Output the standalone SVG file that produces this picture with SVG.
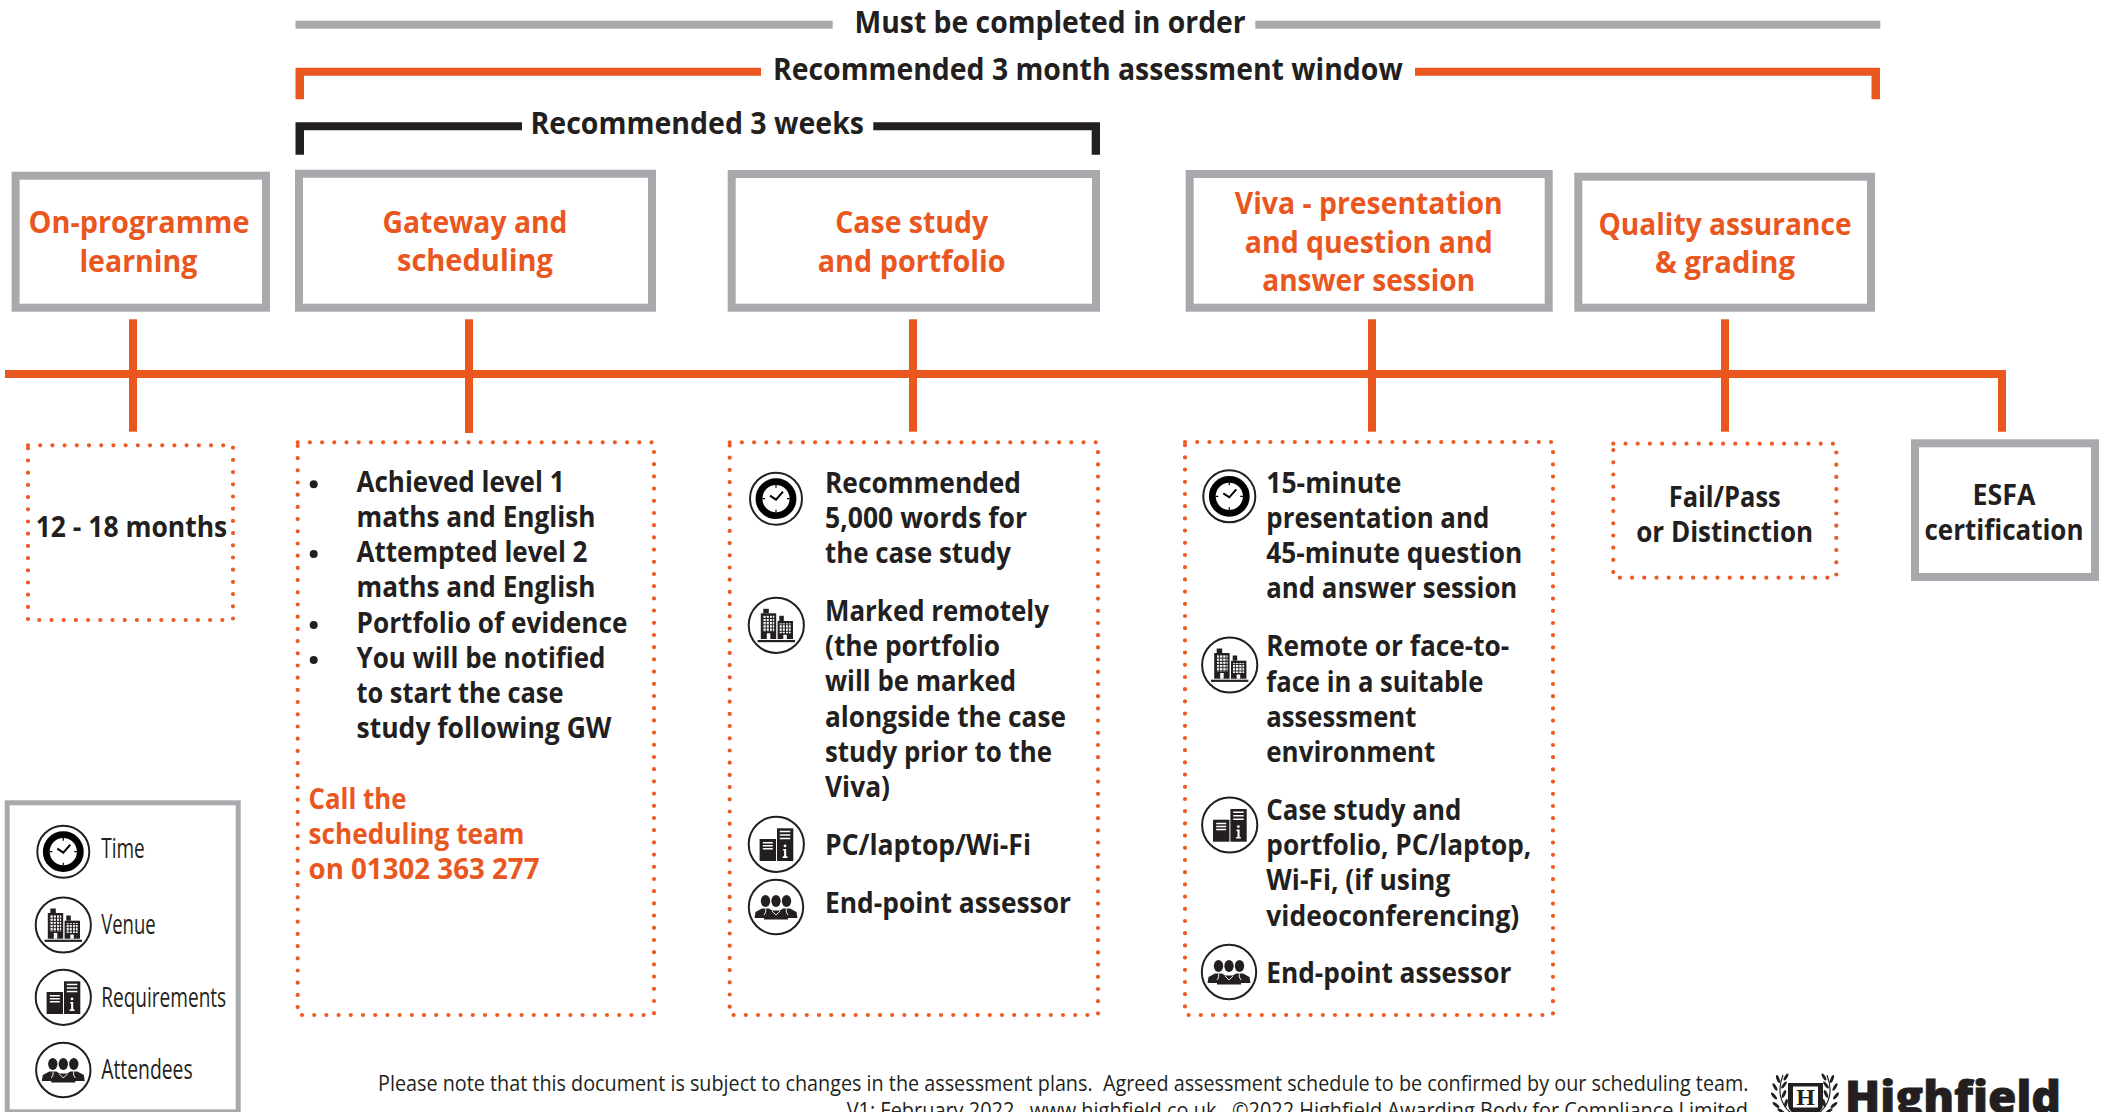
<svg xmlns="http://www.w3.org/2000/svg" width="2103" height="1112" viewBox="0 0 2103 1112">
<style>
text{font-family:"Open Sans","Noto Sans","Liberation Sans",sans-serif;font-weight:700;fill:#231f20}
.b{font-size:28.5px}
.top{font-size:31px}
.h{font-size:31px;fill:#e9571f;text-anchor:middle}
.c{text-anchor:middle}
.o{fill:#e9571f}
.leg{font-size:27px;font-weight:400}
.foot{font-size:21px;font-weight:400}
.box{fill:#fff;stroke:#a7a9ac;stroke-width:8}
.dot{fill:none;stroke:#ee5a24;stroke-width:4.2;stroke-linecap:round;stroke-dasharray:0 12.2}
.orange{fill:#e9571f}
.gray{fill:#a7a9ac}
.black{fill:#231f20}
.ring{fill:#fff;stroke:#231f20;stroke-width:2}
.w{stroke:#fff;stroke-width:1.4;fill:none}
</style>
<defs>
<pattern id="win" width="3.2" height="3.2" patternUnits="userSpaceOnUse"><rect width="2.2" height="2.2" fill="#fff"/></pattern>
<g id="i-time">
<circle class="ring" r="26"/>
<circle r="17" fill="#fff" stroke="#000" stroke-width="6.8"/>
<path d="M0-13.6V-11M0 13.6V11M-13.6 0H-11M13.6 0H11" stroke="#000" stroke-width="1.2"/>
<path d="M-6-3L0 1L7-7" fill="none" stroke="#000" stroke-width="2"/>
</g>
<g id="i-venue">
<circle class="ring" r="27.6"/>
<g fill="#231f20">
<rect x="-18.7" y="14.7" width="37.4" height="2.2"/>
<rect x="-15.5" y="-12" width="15.4" height="25.7"/>
<rect x="-13" y="-16.5" width="5.5" height="4.5"/>
<rect x="1.3" y="-4.3" width="15.4" height="18"/>
<rect x="3" y="-9.5" width="4.5" height="5.2"/>
</g>
<rect x="-13.5" y="-10" width="11.4" height="16.5" fill="url(#win)"/>
<rect x="3" y="-2" width="11.4" height="10" fill="url(#win)"/>
<rect x="-9.5" y="8" width="3.5" height="5.7" fill="#fff"/>
<rect x="7" y="9.5" width="3.5" height="4.2" fill="#fff"/>
</g>
<g id="i-req">
<circle class="ring" r="27.6"/>
<rect x="-16.7" y="-5.3" width="16.4" height="22" fill="#231f20"/>
<rect x="0.7" y="-16" width="16.3" height="32.7" fill="#231f20"/>
<path class="w" d="M-13.5-1.5H-3.5M-13.5 1.5H-3.5M-13.5 4.5H-3.5M3.5-12.8H14M3.5-9.3H14M3.5-5.8H14"/>
<circle cx="8.7" cy="1.6" r="1.4" fill="#fff"/>
<path d="M6.8 4.6H9.9V12H11.2V13.6H6.4V12H7.8V6.2H6.8Z" fill="#fff"/>
</g>
<g id="i-att">
<circle class="ring" r="27.2"/>
<g fill="#231f20">
<ellipse cx="-10.5" cy="-6" rx="4.7" ry="6"/>
<ellipse cx="0" cy="-6" rx="4.7" ry="6"/>
<ellipse cx="10.5" cy="-6" rx="4.7" ry="6"/>
<path d="M-21.5 11L-20.5 5L-14 1.5H-7L-4 3.5L4 3.5L7 1.5H14L20.5 5L21.5 11H12V12.5H-12V11Z"/>
</g>
<path d="M-10.3 1.5V5L-12 8M10.3 1.5V5L12 8M-4 4L0 8L4 4" fill="none" stroke="#fff" stroke-width="0.9"/>
</g>
<g id="laurel" fill="#231f20">
<path d="M1791 1113C1780 1104 1777 1090 1783 1075" fill="none" stroke="#231f20" stroke-width="1.2"/>
<ellipse cx="1786" cy="1077" rx="1.5" ry="4" transform="rotate(30 1786 1077)"/>
<ellipse cx="1778" cy="1079" rx="1.5" ry="4.2" transform="rotate(-20 1778 1079)"/>
<ellipse cx="1784" cy="1085" rx="1.5" ry="4.2" transform="rotate(35 1784 1085)"/>
<ellipse cx="1775" cy="1087" rx="1.5" ry="4.2" transform="rotate(-30 1775 1087)"/>
<ellipse cx="1784" cy="1094" rx="1.5" ry="4.2" transform="rotate(25 1784 1094)"/>
<ellipse cx="1774" cy="1096" rx="1.5" ry="4.2" transform="rotate(-40 1774 1096)"/>
<ellipse cx="1786" cy="1103" rx="1.5" ry="4.2" transform="rotate(15 1786 1103)"/>
<ellipse cx="1776" cy="1105" rx="1.5" ry="4.2" transform="rotate(-50 1776 1105)"/>
<ellipse cx="1781" cy="1111" rx="1.5" ry="4.2" transform="rotate(-55 1781 1111)"/>
</g>
</defs>
<rect width="2103" height="1112" fill="#fff"/>

<g id="connectors">
<rect class="gray" x="295.5" y="20.7" width="537.2" height="8"/>
<rect class="gray" x="1255.3" y="20.7" width="625" height="8"/>
<path class="orange" d="M295.5 67.7H761V75.7H304V99.3H295.5Z"/>
<path class="orange" d="M1415 67.7H1880V99.3H1871.5V75.7H1415Z"/>
<path class="black" d="M295.5 122.3H522V130.3H304V154.7H295.5Z"/>
<path class="black" d="M873.3 122.3H1100V154.7H1091.7V130.3H873.3Z"/>
<path class="orange" d="M5 370H2006V431.7H1998V378H5Z"/>
<rect class="orange" x="129" y="319.3" width="8" height="112.4"/>
<rect class="orange" x="465" y="319.3" width="8" height="113.7"/>
<rect class="orange" x="909" y="319.3" width="8" height="112.4"/>
<rect class="orange" x="1368" y="319.3" width="8" height="112.4"/>
<rect class="orange" x="1721" y="319.3" width="8" height="112.4"/>
</g>

<g id="label-order"><text class="top" x="854.5" y="33" textLength="391.2" lengthAdjust="spacingAndGlyphs">Must be completed in order</text></g>
<g id="label-window"><text class="top" x="773" y="80" textLength="629.7" lengthAdjust="spacingAndGlyphs">Recommended 3 month assessment window</text></g>
<g id="label-weeks"><text class="top" x="530.5" y="134" textLength="333.5" lengthAdjust="spacingAndGlyphs">Recommended 3 weeks</text></g>

<g id="node-onprogramme">
<rect class="box" x="15.6" y="175.7" width="250.4" height="132"/>
<text class="h" x="139" y="232.7" textLength="221" lengthAdjust="spacingAndGlyphs">On-programme</text>
<text class="h" x="138.4" y="271.7" textLength="118" lengthAdjust="spacingAndGlyphs">learning</text>
</g>
<g id="node-gateway">
<rect class="box" x="299" y="173.7" width="353" height="134"/>
<text class="h" x="475" y="232.7" textLength="185" lengthAdjust="spacingAndGlyphs">Gateway and</text>
<text class="h" x="475" y="270.7" textLength="156" lengthAdjust="spacingAndGlyphs">scheduling</text>
</g>
<g id="node-casestudy">
<rect class="box" x="731.7" y="174" width="364.3" height="133.7"/>
<text class="h" x="911.7" y="233.3" textLength="153" lengthAdjust="spacingAndGlyphs">Case study</text>
<text class="h" x="911.7" y="272.3" textLength="188" lengthAdjust="spacingAndGlyphs">and portfolio</text>
</g>
<g id="node-viva">
<rect class="box" x="1189.7" y="174" width="359" height="133.7"/>
<text class="h" x="1368.7" y="214" textLength="268" lengthAdjust="spacingAndGlyphs">Viva - presentation</text>
<text class="h" x="1368.7" y="252.7" textLength="248" lengthAdjust="spacingAndGlyphs">and question and</text>
<text class="h" x="1368.7" y="291.3" textLength="213" lengthAdjust="spacingAndGlyphs">answer session</text>
</g>
<g id="node-quality">
<rect class="box" x="1578.3" y="176.7" width="292.7" height="131"/>
<text class="h" x="1725" y="235" textLength="253" lengthAdjust="spacingAndGlyphs">Quality assurance</text>
<text class="h" x="1725" y="272.7" textLength="140" lengthAdjust="spacingAndGlyphs">&amp; grading</text>
</g>
<g id="node-esfa">
<rect class="box" x="1915" y="443.3" width="180" height="133.7"/>
<text class="b c" x="2004" y="505" textLength="63" lengthAdjust="spacingAndGlyphs">ESFA</text>
<text class="b c" x="2004" y="540" textLength="159" lengthAdjust="spacingAndGlyphs">certification</text>
</g>

<g id="detail-onprogramme">
<rect class="dot" x="28" y="445.3" width="205" height="174.7"/>
<text class="b" x="35.7" y="536.7" textLength="191.6" lengthAdjust="spacingAndGlyphs">12 - 18 months</text>
</g>

<g id="detail-gateway">
<rect class="dot" x="297.7" y="442.3" width="356.3" height="572.7"/>
<circle class="black" cx="313.7" cy="484.3" r="4"/>
<circle class="black" cx="313.7" cy="554" r="4"/>
<circle class="black" cx="313.7" cy="625" r="4"/>
<circle class="black" cx="313.7" cy="660" r="4"/>
<text class="b" x="356.5" y="491.7" textLength="208" lengthAdjust="spacingAndGlyphs">Achieved level 1</text>
<text class="b" x="356.5" y="526.7" textLength="239" lengthAdjust="spacingAndGlyphs">maths and English</text>
<text class="b" x="356.5" y="561.7" textLength="231" lengthAdjust="spacingAndGlyphs">Attempted level 2</text>
<text class="b" x="356.5" y="597.3" textLength="239" lengthAdjust="spacingAndGlyphs">maths and English</text>
<text class="b" x="356.5" y="632.7" textLength="271" lengthAdjust="spacingAndGlyphs">Portfolio of evidence</text>
<text class="b" x="356.5" y="667.7" textLength="249" lengthAdjust="spacingAndGlyphs">You will be notified</text>
<text class="b" x="356.5" y="703.3" textLength="207" lengthAdjust="spacingAndGlyphs">to start the case</text>
<text class="b" x="356.5" y="737.7" textLength="255" lengthAdjust="spacingAndGlyphs">study following GW</text>
<text class="b o" x="308.5" y="808.8" textLength="98" lengthAdjust="spacingAndGlyphs">Call the</text>
<text class="b o" x="308.5" y="844" textLength="216" lengthAdjust="spacingAndGlyphs">scheduling team</text>
<text class="b o" x="308.5" y="879" textLength="231" lengthAdjust="spacingAndGlyphs">on 01302 363 277</text>
</g>

<g id="detail-casestudy">
<rect class="dot" x="729.7" y="442.3" width="368.3" height="572.7"/>
<use href="#i-time" x="776" y="498.7"/>
<use href="#i-venue" x="776.3" y="625.3"/>
<use href="#i-req" x="776.3" y="844.3"/>
<use href="#i-att" x="776" y="907"/>
<text class="b" x="825" y="492.7" textLength="196" lengthAdjust="spacingAndGlyphs">Recommended</text>
<text class="b" x="825" y="527.7" textLength="202" lengthAdjust="spacingAndGlyphs">5,000 words for</text>
<text class="b" x="825" y="562.7" textLength="186" lengthAdjust="spacingAndGlyphs">the case study</text>
<text class="b" x="825" y="621" textLength="224" lengthAdjust="spacingAndGlyphs">Marked remotely</text>
<text class="b" x="825" y="656" textLength="175" lengthAdjust="spacingAndGlyphs">(the portfolio</text>
<text class="b" x="825" y="691.3" textLength="191" lengthAdjust="spacingAndGlyphs">will be marked</text>
<text class="b" x="825" y="726.7" textLength="241" lengthAdjust="spacingAndGlyphs">alongside the case</text>
<text class="b" x="825" y="761.7" textLength="227" lengthAdjust="spacingAndGlyphs">study prior to the</text>
<text class="b" x="825" y="796.7" textLength="65" lengthAdjust="spacingAndGlyphs">Viva)</text>
<text class="b" x="825" y="855" textLength="206" lengthAdjust="spacingAndGlyphs">PC/laptop/Wi-Fi</text>
<text class="b" x="825" y="913" textLength="246" lengthAdjust="spacingAndGlyphs">End-point assessor</text>
</g>

<g id="detail-viva">
<rect class="dot" x="1185" y="442" width="368" height="573"/>
<use href="#i-time" x="1229.3" y="496.3"/>
<use href="#i-venue" x="1229.7" y="665"/>
<use href="#i-req" x="1229.7" y="825"/>
<use href="#i-att" x="1229" y="972"/>
<text class="b" x="1266.3" y="493" textLength="135" lengthAdjust="spacingAndGlyphs">15-minute</text>
<text class="b" x="1266.3" y="527.8" textLength="223" lengthAdjust="spacingAndGlyphs">presentation and</text>
<text class="b" x="1266.3" y="563" textLength="256" lengthAdjust="spacingAndGlyphs">45-minute question</text>
<text class="b" x="1266.3" y="598" textLength="251" lengthAdjust="spacingAndGlyphs">and answer session</text>
<text class="b" x="1266.3" y="656" textLength="243" lengthAdjust="spacingAndGlyphs">Remote or face-to-</text>
<text class="b" x="1266.3" y="692" textLength="217" lengthAdjust="spacingAndGlyphs">face in a suitable</text>
<text class="b" x="1266.3" y="727.4" textLength="150" lengthAdjust="spacingAndGlyphs">assessment</text>
<text class="b" x="1266.3" y="762" textLength="169" lengthAdjust="spacingAndGlyphs">environment</text>
<text class="b" x="1266.3" y="819.6" textLength="195" lengthAdjust="spacingAndGlyphs">Case study and</text>
<text class="b" x="1266.3" y="854.8" textLength="265" lengthAdjust="spacingAndGlyphs">portfolio, PC/laptop,</text>
<text class="b" x="1266.3" y="890" textLength="184" lengthAdjust="spacingAndGlyphs">Wi-Fi, (if using</text>
<text class="b" x="1266.3" y="926" textLength="253" lengthAdjust="spacingAndGlyphs">videoconferencing)</text>
<text class="b" x="1266.3" y="983" textLength="245" lengthAdjust="spacingAndGlyphs">End-point assessor</text>
</g>

<g id="detail-quality">
<rect class="dot" x="1613.3" y="443.7" width="223" height="134"/>
<text class="b c" x="1724.7" y="506.7" textLength="112" lengthAdjust="spacingAndGlyphs">Fail/Pass</text>
<text class="b c" x="1724.7" y="541.7" textLength="177" lengthAdjust="spacingAndGlyphs">or Distinction</text>
</g>

<g id="legend">
<rect x="7.2" y="802.8" width="231" height="309" fill="#fff" stroke="#a7a9ac" stroke-width="5"/>
<use href="#i-time" x="63.3" y="851.7"/>
<use href="#i-venue" x="63.3" y="925"/>
<use href="#i-req" x="63.3" y="997.3"/>
<use href="#i-att" x="63.3" y="1070"/>
<text class="leg" x="101.2" y="857.7" textLength="43.5" lengthAdjust="spacingAndGlyphs">Time</text>
<text class="leg" x="101.2" y="934.3" textLength="54.5" lengthAdjust="spacingAndGlyphs">Venue</text>
<text class="leg" x="101.2" y="1006.7" textLength="125" lengthAdjust="spacingAndGlyphs">Requirements</text>
<text class="leg" x="101.2" y="1079" textLength="91.5" lengthAdjust="spacingAndGlyphs">Attendees</text>
</g>

<g id="footer">
<text class="foot" x="378" y="1090.7" textLength="1370.5" lengthAdjust="spacingAndGlyphs" xml:space="preserve">Please note that this document is subject to changes in the assessment plans.  Agreed assessment schedule to be confirmed by our scheduling team.</text>
<text class="foot" x="846.7" y="1118" textLength="901.3" lengthAdjust="spacingAndGlyphs" xml:space="preserve">V1: February 2022   www.highfield.co.uk   ©2022 Highfield Awarding Body for Compliance Limited</text>
</g>

<g id="logo">
<use href="#laurel"/>
<use href="#laurel" transform="translate(3610 0) scale(-1 1)"/>
<path d="M1788 1083H1823V1104C1823 1112 1815 1116 1805.5 1118C1796 1116 1788 1112 1788 1104Z" fill="#231f20"/>
<rect x="1793" y="1086.5" width="25" height="21" fill="#fff"/>
<text x="1805.5" y="1104.5" text-anchor="middle" style="font-family:'Liberation Serif',serif;font-size:24px;font-weight:700">H</text>
<text x="1845" y="1113" textLength="216" lengthAdjust="spacingAndGlyphs" style="font-size:44px;font-weight:800;stroke:#231f20;stroke-width:0.8">Highfield</text>
</g>
</svg>
